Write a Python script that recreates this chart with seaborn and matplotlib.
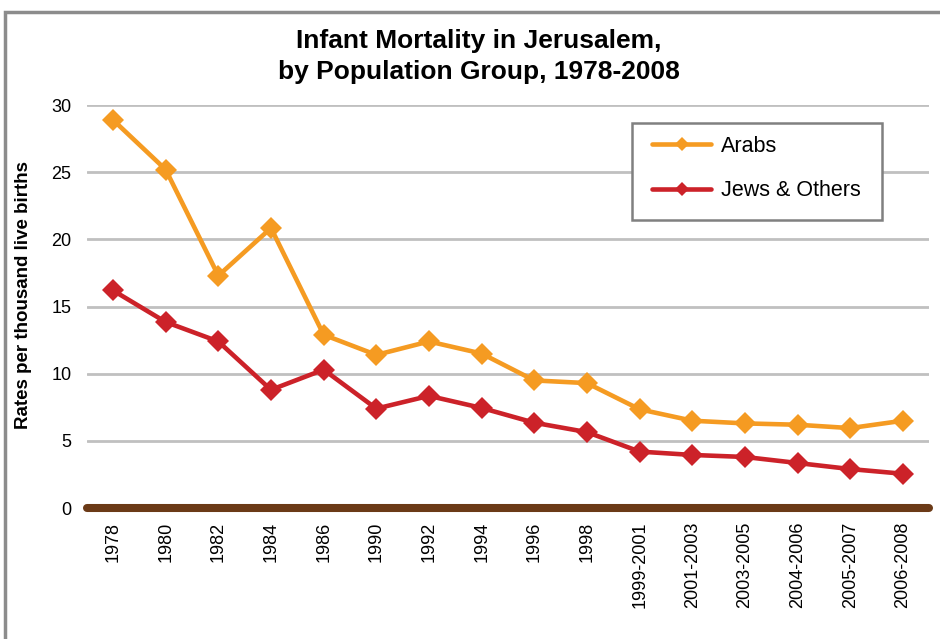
import numpy as np
import pandas as pd
import matplotlib.pyplot as plt
import seaborn as sns
from matplotlib.patches import Rectangle

# Data
periods = ["1978", "1980", "1982", "1984", "1986", "1990", "1992", "1994", "1996",
           "1998", "1999-2001", "2001-2003", "2003-2005", "2004-2006", "2005-2007",
           "2006-2008"]
arabs = [28.9, 25.2, 17.3, 20.85, 12.9, 11.4, 12.4, 11.5, 9.5, 9.3, 7.35, 6.5,
         6.3, 6.2, 5.95, 6.5]
jews_others = [16.2, 13.85, 12.4, 8.8, 10.3, 7.4, 8.35, 7.45, 6.35, 5.65, 4.2,
               3.95, 3.8, 3.35, 2.9, 2.55]
groups = ["Arabs", "Jews & Others"]
colors = {"Arabs": "#F59B22", "Jews & Others": "#CC2229"}

df = pd.DataFrame({
    "Period": periods * 2,
    "Rate": arabs + jews_others,
    "Group": [groups[0]] * len(periods) + [groups[1]] * len(periods),
})

sns.set_style("white")
plt.rcParams["font.family"] = ["Liberation Sans", "DejaVu Sans"]
plt.rcParams["text.color"] = "black"
plt.rcParams["axes.labelcolor"] = "black"
plt.rcParams["xtick.color"] = "black"
plt.rcParams["ytick.color"] = "black"

fig = plt.figure(figsize=(9.4, 6.39), dpi=100)
ax = fig.add_axes([0.0922, 0.205, 0.8964, 0.6305])

# light grey gridlines
for yv in range(5, 31, 5):
    ax.axhline(yv, color="#C0C0C0", lw=2, zorder=0)

sns.lineplot(data=df, x="Period", y="Rate", hue="Group", palette=colors,
             marker="D", markersize=11, markeredgewidth=0, linewidth=3.3,
             sort=False, ax=ax, zorder=3)

# thick brown baseline
ax.axhline(0, color="#6B3A17", lw=5.8, solid_capstyle="round", clip_on=False, zorder=2)

ax.set_xlim(-0.5, len(periods) - 0.5)
ax.set_ylim(0, 30)
ax.set_yticks(range(0, 31, 5))
ax.tick_params(axis="y", length=0, labelsize=13, pad=11)
ax.tick_params(axis="x", length=0, labelsize=13, pad=10, rotation=90)
ax.set_xlabel("")
ax.set_ylabel("")
for s in ax.spines.values():
    s.set_visible(False)

fig.text(24 / 940, 1 - 295 / 639, "Rates per thousand live births", rotation=90,
         ha="center", va="center", fontsize=13.5, fontweight="bold")

# legend without its own frame, box drawn separately
leg = ax.legend(title=None, loc="center left", bbox_to_anchor=(0.6709, 0.8424),
                fontsize=15.5, frameon=False, borderpad=0, labelspacing=1.1,
                handlelength=2.75, handletextpad=0.45, borderaxespad=0)
for h in leg.legend_handles:
    h.set_markersize(7)
    h.set_linewidth(3.3)
ax.add_patch(Rectangle((0.6472, 0.7146), 0.2967, 0.2407, transform=ax.transAxes,
                       fill=True, facecolor="white", edgecolor="#808080", lw=1.8,
                       zorder=4))
leg.set_zorder(5)

fig.text(0.509, 1 - 56.5 / 639, "Infant Mortality in Jerusalem,\nby Population Group, 1978-2008",
         ha="center", va="center", fontsize=19, fontweight="bold", linespacing=1.35)

# outer frame
fig.patches.append(Rectangle((5 / 940, -0.2), 1.2, 1.2 - 12 / 639,
                             transform=fig.transFigure, fill=False,
                             edgecolor="#8C8C8C", lw=2.5))

plt.savefig("out.png", dpi=100)
plt.close()
